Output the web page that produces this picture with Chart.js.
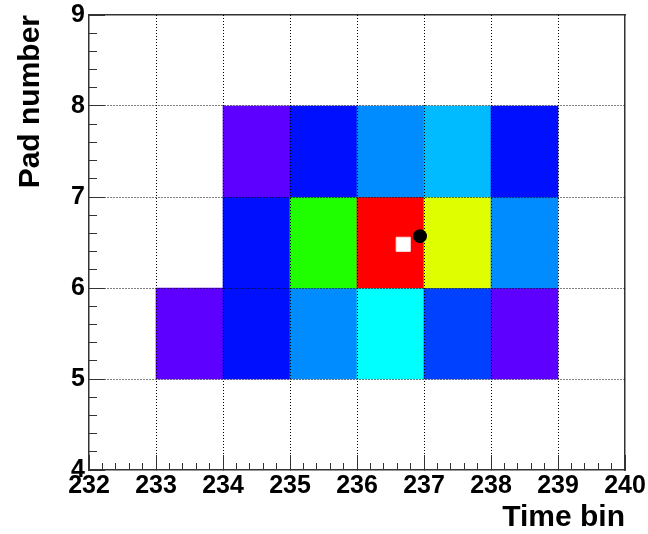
<!DOCTYPE html>
<html>
<head>
<meta charset="utf-8">
<script src="https://cdn.jsdelivr.net/npm/chart.js@4/dist/chart.umd.min.js"></script>
<style>html,body{margin:0;padding:0;background:#fff;}canvas{display:block;}</style>
</head>
<body>
<canvas id="c" width="648" height="534"></canvas>
<script>
// ---- data ----
const timeBinLow = [233, 234, 235, 236, 237, 238,  234, 235, 236, 237, 238,  234, 235, 236, 237, 238];
const padLow     = [5, 5, 5, 5, 5, 5,  6, 6, 6, 6, 6,  7, 7, 7, 7, 7];
const charge     = [3, 12.5, 23.3, 33.3, 16.7, 3,  12.5, 58.3, 100, 75, 23.3,  3, 12.5, 23.3, 27.4, 12.5];
const xTickValues = [232, 233, 234, 235, 236, 237, 238, 239, 240];
const yTickValues = [4, 5, 6, 7, 8, 9];
const squareX = [236.69], squareY = [6.48];
const circleX = [236.94], circleY = [6.57];

// rainbow palette (violet -> red)
function palette(q) {
  const hue = 270 * (1 - q / 100);
  return 'hsl(' + hue.toFixed(1) + ',100%,50%)';
}

const FONT = '"Liberation Sans", Arial, Helvetica, sans-serif';
const AX = '#333';

const cells = timeBinLow.map((t, i) => ({ x: t + 0.5, y: [padLow[i], padLow[i] + 1] }));

const gridColorFor = (lo, hi) => (ctx) => (ctx.tick && (ctx.tick.value === lo || ctx.tick.value === hi)) ? 'rgba(0,0,0,0)' : '#000';
const noPad = s => { s.paddingLeft = 0; s.paddingRight = 0; s.paddingTop = 0; s.paddingBottom = 0; };

new Chart(document.getElementById('c'), {
  type: 'bar',
  data: {
    datasets: [
      {
        type: 'scatter', order: 0, xAxisID: 'x', yAxisID: 'y',
        data: circleX.map((x, i) => ({ x, y: circleY[i] })),
        pointStyle: 'circle', pointRadius: 7, backgroundColor: '#000', borderColor: '#000', borderWidth: 0
      },
      {
        type: 'scatter', order: 0, xAxisID: 'x', yAxisID: 'y',
        data: squareX.map((x, i) => ({ x, y: squareY[i] })),
        pointStyle: 'rect', pointRadius: 10, backgroundColor: '#fff', borderColor: '#ffe0e0', borderWidth: 1
      },
      {
        type: 'bar', order: 1, xAxisID: 'x', yAxisID: 'y',
        data: cells,
        backgroundColor: charge.map(palette),
        borderWidth: 0,
        categoryPercentage: 1, barPercentage: 1, grouped: false
      }
    ]
  },
  options: {
    responsive: false,
    animation: false,
    events: [],
    layout: { padding: { top: 15, right: 23, left: 0, bottom: 0 } },
    plugins: { legend: { display: false }, tooltip: { enabled: false } },
    scales: {
      x: {
        type: 'linear', position: 'bottom', min: 232, max: 240, offset: false, weight: 1,
        afterBuildTicks: s => { s.ticks = xTickValues.map(v => ({ value: v })); },
        afterFit: s => { s.height = 64; noPad(s); },
        ticks: { font: { family: FONT, size: 25, weight: 'bold' }, color: '#000', padding: 16, maxRotation: 0, minRotation: 0, autoSkip: false },
        grid: { offset: false, color: gridColorFor(232, 240), lineWidth: 1, tickLength: -15, tickColor: AX, tickWidth: 1, z: 1 },
        border: { display: true, color: AX, width: 1.5, dash: [1, 2], z: 1 },
        title: { display: true, text: 'Time bin', align: 'end', color: '#000', font: { family: FONT, size: 30, weight: 'bold' }, padding: { top: 0, bottom: -2 } }
      },
      xMinor: {
        type: 'linear', position: 'bottom', min: 232, max: 240, offset: false, weight: 0,
        afterFit: s => { s.height = 0; noPad(s); },
        ticks: { display: false, stepSize: 0.2, autoSkip: false },
        grid: { offset: false, drawOnChartArea: false, tickLength: -7, tickColor: AX, tickWidth: 1, z: 1 },
        border: { display: false }
      },
      xTop: {
        type: 'linear', position: 'top', min: 232, max: 240, offset: false,
        afterFit: s => { s.height = 0; noPad(s); },
        ticks: { display: false },
        grid: { offset: false, drawOnChartArea: false, drawTicks: false },
        border: { display: true, color: AX, width: 1.5 }
      },
      y: {
        type: 'linear', position: 'left', min: 4, max: 9, weight: 1,
        afterBuildTicks: s => { s.ticks = yTickValues.map(v => ({ value: v })); },
        afterFit: s => { s.width = 89; noPad(s); },
        ticks: { font: { family: FONT, size: 25, weight: 'bold' }, color: '#000', padding: 20 },
        grid: { color: gridColorFor(4, 9), lineWidth: 1, tickLength: -16, tickColor: AX, tickWidth: 1, z: 1 },
        border: { display: true, color: AX, width: 1.5, dash: [1, 2], z: 1 },
        title: { display: true, text: 'Pad number', align: 'end', color: '#000', font: { family: FONT, size: 30, weight: 'bold' }, padding: { top: 13, bottom: 0 } }
      },
      yMinor: {
        type: 'linear', position: 'left', min: 4, max: 9, weight: 0,
        afterFit: s => { s.width = 0; noPad(s); },
        ticks: { display: false, stepSize: 0.2 },
        grid: { drawOnChartArea: false, tickLength: -8, tickColor: AX, tickWidth: 1, z: 1 },
        border: { display: false }
      },
      yRight: {
        type: 'linear', position: 'right', min: 4, max: 9,
        afterFit: s => { s.width = 0; noPad(s); },
        ticks: { display: false },
        grid: { drawOnChartArea: false, drawTicks: false },
        border: { display: true, color: AX, width: 1.5 }
      }
    }
  }
});
</script>
</body>
</html>
